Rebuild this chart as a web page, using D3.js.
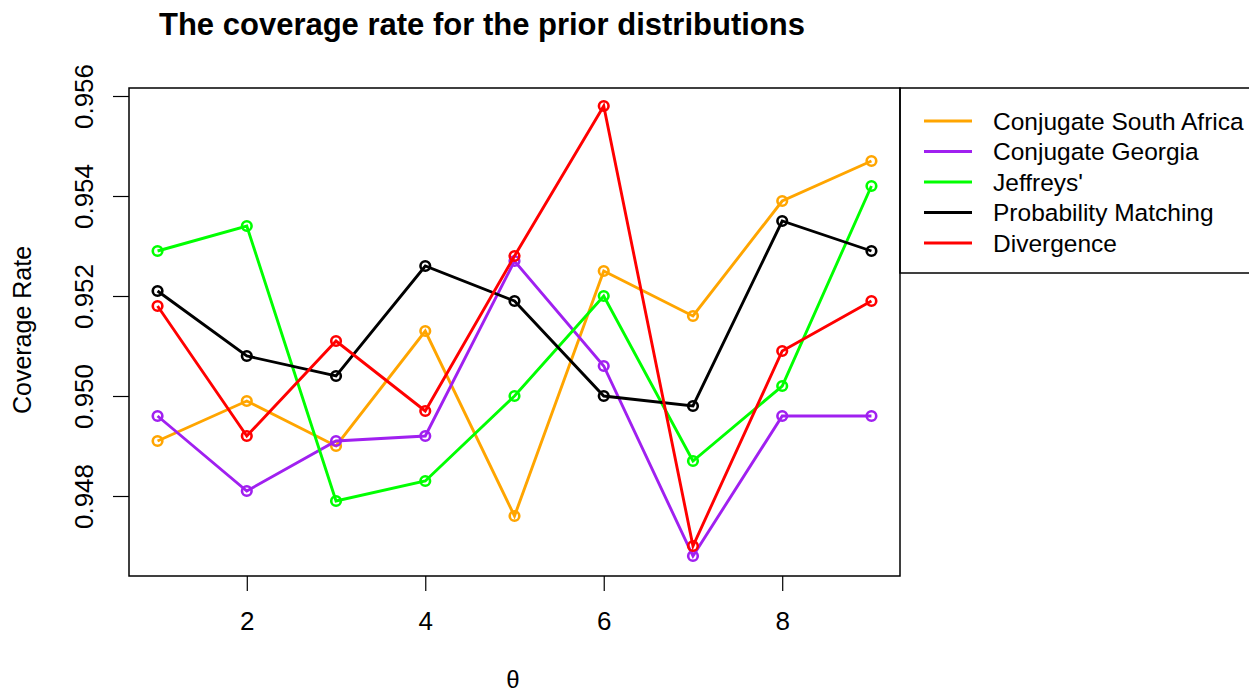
<!DOCTYPE html>
<html>
<head>
<meta charset="utf-8">
<script src="https://cdn.jsdelivr.net/npm/d3@7"></script>
<style>
  body { margin: 0; background: #fff; }
  svg { display: block; font-family: "Liberation Sans", Arial, sans-serif; }
</style>
</head>
<body>
<svg id="chart"></svg>
<script>
const width = 1249;
const height = 694;
const margin = { top: 88, right: 349, bottom: 118, left: 129 };

const theta = [1, 2, 3, 4, 5, 6, 7, 8, 9];
const seriesNames = ['Conjugate South Africa', 'Conjugate Georgia', "Jeffreys'", 'Probability Matching', 'Divergence'];
const southAfrica = [0.9491, 0.9499, 0.9490, 0.9513, 0.9476, 0.9525, 0.9516, 0.9539, 0.9547];
const georgia = [0.9496, 0.9481, 0.9491, 0.9492, 0.9527, 0.9506, 0.9468, 0.9496, 0.9496];
const jeffreys = [0.9529, 0.9534, 0.9479, 0.9483, 0.9500, 0.9520, 0.9487, 0.9502, 0.9542];
const probMatching = [0.9521, 0.9508, 0.9504, 0.9526, 0.9519, 0.9500, 0.9498, 0.9535, 0.9529];
const divergence = [0.9518, 0.9492, 0.9511, 0.9497, 0.9528, 0.9558, 0.9470, 0.9509, 0.9519];
const xTicks = [2, 4, 6, 8];
const yTicks = [0.948, 0.950, 0.952, 0.954, 0.956];
const colors = ['#ffa500', '#a020f0', '#00ff00', '#000000', '#ff0000'];

const series = [southAfrica, georgia, jeffreys, probMatching, divergence].map((vals, i) => ({
  name: seriesNames[i],
  color: colors[i],
  values: vals.map((v, j) => ({ x: theta[j], y: v }))
}));

const svg = d3.select('#chart').attr('width', width).attr('height', height);

// R style: 4% padding around the data range
const x = d3.scaleLinear().domain([0.68, 9.32]).range([margin.left, width - margin.right]);
const y = d3.scaleLinear().domain([0.9464, 0.95616]).range([height - margin.bottom, margin.top]);

const xAxis = g =>
  g
    .attr('transform', `translate(0,${height - margin.bottom})`)
    .call(d3.axisBottom(x).tickValues(xTicks).tickSize(15).tickPadding(21).tickFormat(d3.format('d')))
    .call(g => g.select('.domain').remove())
    .call(g => g.selectAll('.tick line').attr('stroke-width', 1.2))
    .call(g => g.selectAll('.tick text').attr('font-size', 26).attr('font-family', 'Liberation Sans, Arial, sans-serif').attr('fill', '#000'));

const yAxis = g =>
  g
    .attr('transform', `translate(${margin.left},0)`)
    .call(d3.axisLeft(y).tickValues(yTicks).tickSize(16).tickFormat(d3.format('.3f')))
    .call(g => g.select('.domain').remove())
    .call(g => g.selectAll('.tick line').attr('stroke-width', 1.2))
    .call(g =>
      g
        .selectAll('.tick text')
        .attr('font-size', 26)
        .attr('font-family', 'Liberation Sans, Arial, sans-serif')
        .attr('fill', '#000')
        .attr('x', null)
        .attr('dy', null)
        .attr('text-anchor', 'middle')
        .attr('transform', 'translate(-36,0) rotate(-90)')
    );

svg.append('g').call(xAxis);
svg.append('g').call(yAxis);

// plot frame
svg
  .append('rect')
  .attr('x', margin.left)
  .attr('y', margin.top)
  .attr('width', width - margin.right - margin.left)
  .attr('height', height - margin.bottom - margin.top)
  .attr('fill', 'none')
  .attr('stroke', '#000')
  .attr('stroke-width', 1.5);

const line = d3
  .line()
  .x(d => x(d.x))
  .y(d => y(d.y));

const lines = svg.append('g').selectAll('g').data(series).join('g');

lines
  .append('path')
  .attr('d', d => line(d.values))
  .attr('fill', 'none')
  .attr('stroke', d => d.color)
  .attr('stroke-width', 2.9);

lines
  .selectAll('circle')
  .data(d => d.values.map(v => ({ ...v, color: d.color })))
  .join('circle')
  .attr('cx', d => x(d.x))
  .attr('cy', d => y(d.y))
  .attr('r', 4.8)
  .attr('fill', 'none')
  .attr('stroke', d => d.color)
  .attr('stroke-width', 2.6);

// legend outside on the right
const legendX = width - margin.right;
const legend = svg.append('g');
legend
  .append('rect')
  .attr('x', legendX)
  .attr('y', margin.top)
  .attr('width', 400)
  .attr('height', 185)
  .attr('fill', 'none')
  .attr('stroke', '#000')
  .attr('stroke-width', 1.5);

const items = legend
  .selectAll('g')
  .data(series)
  .join('g')
  .attr('transform', (d, i) => `translate(${legendX},${121 + i * 30.5})`);

items
  .append('line')
  .attr('x1', 24)
  .attr('x2', 72)
  .attr('stroke', d => d.color)
  .attr('stroke-width', 3);

items
  .append('text')
  .attr('x', 93)
  .attr('dy', '0.36em')
  .attr('font-size', 24.5)
  .attr('fill', '#000')
  .text(d => d.name);

// titles
svg
  .append('text')
  .attr('x', 159)
  .attr('y', 35)
  .attr('font-size', 31)
  .attr('font-weight', 'bold')
  .text('The coverage rate for the prior distributions');

svg
  .append('text')
  .attr('transform', 'translate(31,330) rotate(-90)')
  .attr('text-anchor', 'middle')
  .attr('font-size', 25)
  .text('Coverage Rate');

svg
  .append('text')
  .attr('x', 513)
  .attr('y', 688)
  .attr('text-anchor', 'middle')
  .attr('font-size', 24)
  .text('θ');
</script>
</body>
</html>
